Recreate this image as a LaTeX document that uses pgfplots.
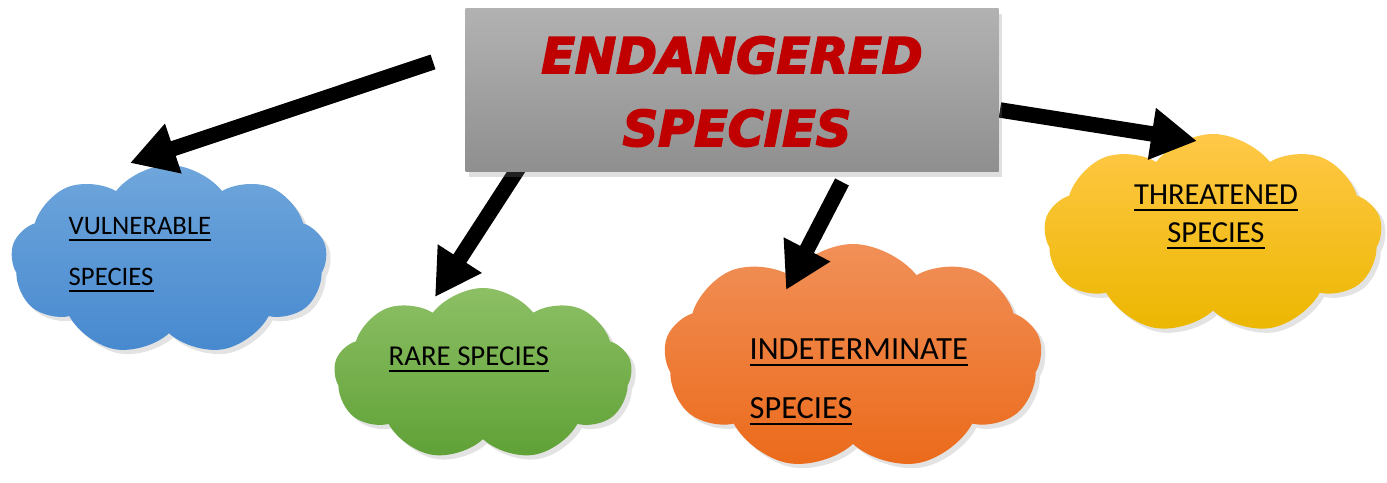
\documentclass[border=0pt]{standalone}
\usepackage{pgfplots}
\pgfplotsset{compat=1.18}
\usepackage{fontspec}
\setmainfont{Carlito}
\newfontfamily\titlefont{DejaVu Sans}[FakeBold=3.5]
\usetikzlibrary{shapes.symbols,shadows,arrows.meta}

\definecolor{titlered}{HTML}{C00000}
\definecolor{blueT}{HTML}{6FA6DC}
\definecolor{blueB}{HTML}{4789CF}
\definecolor{greenT}{HTML}{8DBF65}
\definecolor{greenB}{HTML}{5FA136}
\definecolor{orangeT}{HTML}{F19058}
\definecolor{orangeB}{HTML}{EB6A1A}
\definecolor{yellowT}{HTML}{FFC848}
\definecolor{yellowB}{HTML}{ECB700}
\definecolor{greyT}{HTML}{B2B2B2}
\definecolor{greyB}{HTML}{8F8F8F}

\tikzset{
  puff/.style={cloud, cloud puffs=9, cloud puff arc=105, inner sep=0pt, draw=none,
    drop shadow={opacity=0.22, shadow xshift=1.2pt, shadow yshift=-1.2pt}},
}

\begin{document}
\begin{tikzpicture}
  \begin{axis}[
      scale only axis,
      width=13.87cm, height=4.83cm,
      xmin=0, xmax=1387, ymin=0, ymax=483,
      y dir=reverse,
      hide axis,
      clip=false,
  ]
  % invisible corners keep the frame
  \addplot[draw=none] coordinates {(0,0) (1387,483)};

  % clouds
  \node[puff, aspect=1.7, minimum width=3.16cm, minimum height=1.9cm,
        top color=blueT, bottom color=blueB] at (axis cs:169,260) {};
  \node[puff, aspect=1.75, minimum width=2.98cm, minimum height=1.72cm,
        top color=greenT, bottom color=greenB] at (axis cs:483,374) {};
  \node[puff, aspect=1.7, minimum width=3.78cm, minimum height=2.26cm,
        top color=orangeT, bottom color=orangeB] at (axis cs:853,357) {};
  \node[puff, aspect=1.7, minimum width=3.38cm, minimum height=2.0cm,
        top color=yellowT, bottom color=yellowB] at (axis cs:1213,234) {};

  % cloud labels
  \node[anchor=base west, inner sep=0pt, font=\fontsize{7.6}{9}\selectfont]
        at (axis cs:68,235) {\underline{VULNERABLE}};
  \node[anchor=base west, inner sep=0pt, font=\fontsize{7.6}{9}\selectfont]
        at (axis cs:68,286) {\underline{SPECIES}};
  \node[anchor=base west, inner sep=0pt, font=\fontsize{8.2}{9}\selectfont]
        at (axis cs:388,366) {\underline{RARE SPECIES}};
  \node[anchor=base west, inner sep=0pt, font=\fontsize{9.2}{11}\selectfont]
        at (axis cs:749,360) {\underline{INDETERMINATE}};
  \node[anchor=base west, inner sep=0pt, font=\fontsize{9.2}{11}\selectfont]
        at (axis cs:749,419) {\underline{SPECIES}};
  \node[anchor=base, inner sep=0pt, font=\fontsize{8.7}{10}\selectfont]
        at (axis cs:1216,205) {\underline{THREATENED}};
  \node[anchor=base, inner sep=0pt, font=\fontsize{8.7}{10}\selectfont]
        at (axis cs:1216,243) {\underline{SPECIES}};

  % arrows
  \addplot[line width=4.4pt, black, -{Triangle[length=13pt, width=14pt]}]
      coordinates {(433,62) (130,163)};
  \addplot[line width=4.4pt, black, -{Triangle[length=13pt, width=14pt]}]
      coordinates {(527,155) (435,297)};
  \addplot[line width=4.4pt, black, -{Triangle[length=13pt, width=14pt]}]
      coordinates {(842,182) (786,290)};
  \addplot[line width=4.4pt, black, -{Triangle[length=13pt, width=14pt]}]
      coordinates {(1000,110) (1197,141)};

  % title box
  \node[rectangle, inner sep=0pt, minimum width=5.33cm, minimum height=1.63cm,
        top color=greyT, bottom color=greyB, draw=none,
        drop shadow={opacity=0.25, shadow xshift=1pt, shadow yshift=-1.5pt}]
        at (axis cs:732,90) {};
  \node[anchor=base, inner sep=0pt, text=titlered,
        font=\titlefont\bfseries\itshape\fontsize{14}{16}\selectfont]
        at (axis cs:732,73) {ENDANGERED};
  \node[anchor=base, inner sep=0pt, text=titlered,
        font=\titlefont\bfseries\itshape\fontsize{14}{16}\selectfont]
        at (axis cs:737,146) {SPECIES};
  \end{axis}
\end{tikzpicture}
\end{document}
